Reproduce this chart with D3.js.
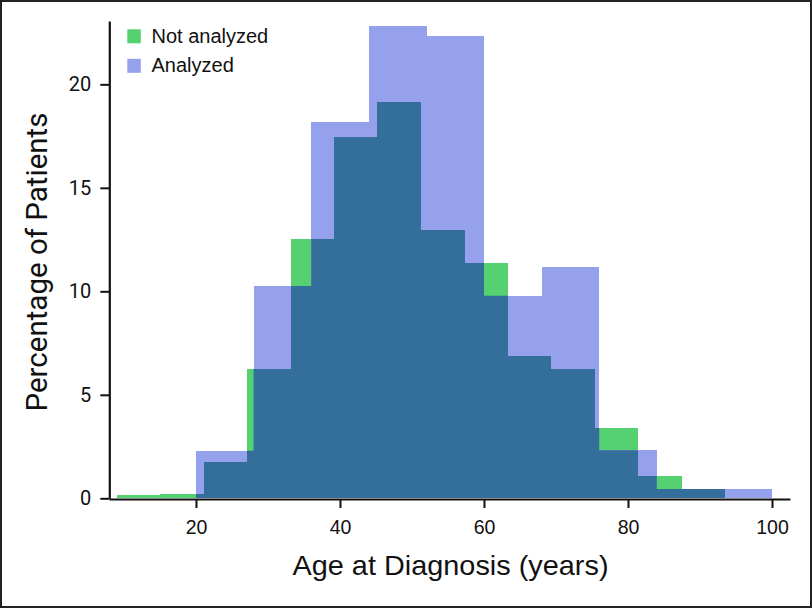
<!DOCTYPE html>
<html>
<head>
<meta charset="utf-8">
<script src="https://cdn.jsdelivr.net/npm/d3@7"></script>
<style>
  html, body { margin: 0; padding: 0; background: #fff; }
  svg { display: block; }
</style>
</head>
<body>
<svg id="chart" width="812" height="608"></svg>
<script>
// ---- Data ----
// Not analyzed: 15 bins from 9 to 99.5
const notAnalyzedEdges = [9, 15.03, 21.07, 27.1, 33.13, 39.17, 45.2, 51.23, 57.27, 63.3, 69.33, 75.37, 81.4, 87.43, 93.47, 99.5];
const notAnalyzedValues = [0.14, 0.2, 1.74, 6.25, 12.53, 17.47, 19.16, 12.96, 11.37, 6.86, 6.25, 3.38, 1.08, 0.45, 0];
// Analyzed: 10 bins from 20 to 100
const analyzedEdges = [20, 28, 36, 44, 52, 60, 68, 76, 84, 92, 100];
const analyzedValues = [2.3, 10.26, 18.16, 22.83, 22.33, 9.79, 11.16, 2.32, 0.45, 0.45];
const xTicks = [20, 40, 60, 80, 100];
const yTicks = [0, 5, 10, 15, 20];
const seriesNames = ["Not analyzed", "Analyzed"];

const colGreen = "#55d172";
const colBlue = "#95a1ec";
const colDark = "#346f9b";

const svg = d3.select("#chart");

// frame
svg.append("rect").attr("x", 1).attr("y", 1).attr("width", 810).attr("height", 606)
  .attr("fill", "none").attr("stroke", "#222").attr("stroke-width", 2);

const x = d3.scaleLinear().domain([7.92, 102.5]).range([109, 790]);
const y = d3.scaleLinear().domain([0, 23.06]).range([498.3, 21]);

function bins(edges, values) {
  return values.map((v, i) => ({ x0: edges[i], x1: edges[i + 1], v }));
}
const green = bins(notAnalyzedEdges, notAnalyzedValues).filter(d => d.v > 0);
const blue = bins(analyzedEdges, analyzedValues).filter(d => d.v > 0);

const defs = svg.append("defs");
const clip = defs.append("clipPath").attr("id", "blueClip");
clip.selectAll("rect").data(blue).join("rect")
  .attr("x", d => x(d.x0)).attr("width", d => x(d.x1) - x(d.x0))
  .attr("y", d => y(d.v)).attr("height", d => y(0) - y(d.v));

function drawBars(g, data, fill) {
  g.selectAll("rect").data(data).join("rect")
    .attr("x", d => x(d.x0)).attr("width", d => x(d.x1) - x(d.x0) + 0.3)
    .attr("y", d => y(d.v)).attr("height", d => y(0) - y(d.v))
    .attr("fill", fill).attr("shape-rendering", "crispEdges");
}
drawBars(svg.append("g"), green, colGreen);
drawBars(svg.append("g"), blue, colBlue);
drawBars(svg.append("g").attr("clip-path", "url(#blueClip)"), green, colDark);

// axes
const xAxis = svg.append("g").attr("transform", `translate(0,${y(0) + 0.7})`)
  .call(d3.axisBottom(x).tickValues(xTicks).tickSize(9).tickSizeOuter(0).tickPadding(12));
xAxis.select(".domain").attr("stroke", "#111").attr("stroke-width", 2.2);
xAxis.selectAll(".tick line").attr("stroke", "#111").attr("stroke-width", 2);
xAxis.selectAll(".tick text").attr("font-family", "'Liberation Sans', Arial, sans-serif")
  .attr("font-size", 19.5).attr("fill", "#111");

const yAxis = svg.append("g").attr("transform", `translate(109.3,0)`)
  .call(d3.axisLeft(y).tickValues(yTicks).tickSize(9).tickSizeOuter(0).tickPadding(9));
yAxis.select(".domain").attr("stroke", "#111").attr("stroke-width", 2.2);
yAxis.selectAll(".tick text").attr("font-family", "Roboto, sans-serif")
  .attr("font-size", 20).attr("fill", "#111");
yAxis.selectAll(".tick line").attr("stroke", "#111").attr("stroke-width", 2);

// axis titles
svg.append("text").attr("x", 450.5).attr("y", 575)
  .attr("text-anchor", "middle")
  .attr("font-family", "'Liberation Sans', Arial, sans-serif")
  .attr("font-size", 28).attr("fill", "#111")
  .attr("textLength", 316).attr("lengthAdjust", "spacingAndGlyphs")
  .text("Age at Diagnosis (years)");

svg.append("text").attr("transform", "translate(47,262) rotate(-90)")
  .attr("text-anchor", "middle")
  .attr("font-family", "Roboto, sans-serif")
  .attr("font-size", 29.5).attr("fill", "#111")
  .text("Percentage of Patients");

// legend
const legColors = [colGreen, colBlue];
const leg = svg.append("g");
seriesNames.forEach((name, i) => {
  const yy = 29.3 + i * 29.5;
  leg.append("rect").attr("x", 127.3).attr("y", yy).attr("width", 13.5).attr("height", 14)
    .attr("fill", legColors[i]);
  leg.append("text").attr("x", 151.5).attr("y", yy + 13.5)
    .attr("font-family", "'Liberation Sans', Arial, sans-serif")
    .attr("font-size", 20).attr("fill", "#111").text(name);
});
</script>
</body>
</html>
